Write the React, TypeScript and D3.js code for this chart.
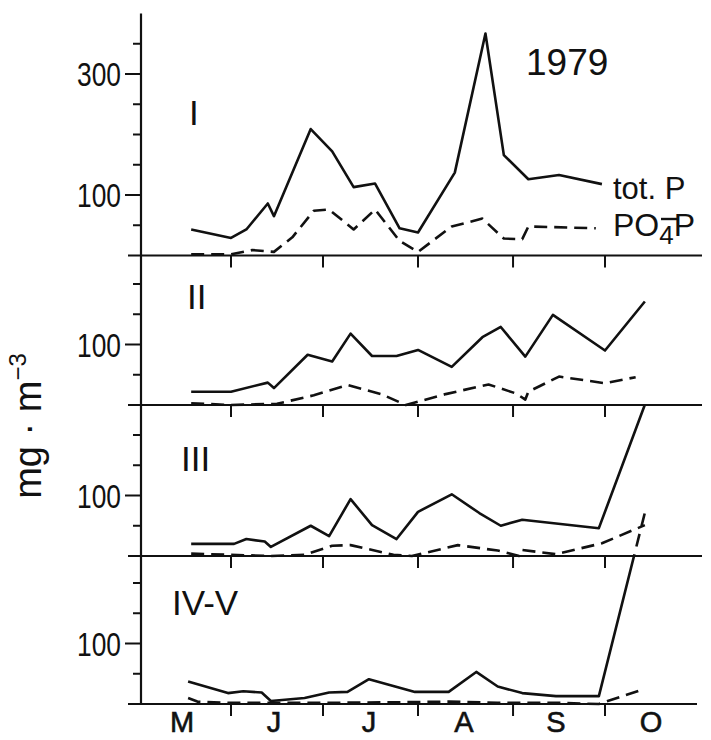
import * as d3 from "d3";

// sampling dates (1979) and values, mg m-3
const totP_I: [string, number][] = [
  ["05-19", 43], ["06-01", 29], ["06-06", 43], ["06-13", 86], ["06-15", 65],
  ["06-27", 209], ["07-04", 172], ["07-11", 113], ["07-18", 119], ["07-26", 45],
  ["08-01", 38], ["08-13", 137], ["08-23", 367], ["08-29", 166], ["09-06", 126],
  ["09-16", 133], ["09-30", 118],
];
const po4_I: [string, number][] = [
  ["05-19", 2], ["06-01", 2], ["06-08", 9], ["06-15", 6], ["06-21", 30],
  ["06-28", 74], ["07-03", 76], ["07-11", 43], ["07-18", 76], ["07-26", 24],
  ["08-01", 6], ["08-12", 48], ["08-22", 61], ["08-29", 28], ["09-04", 27],
  ["09-06", 48], ["09-28", 45],
];
const totP_II: [string, number][] = [
  ["05-19", 22], ["06-01", 22], ["06-13", 37], ["06-15", 28], ["06-26", 83],
  ["07-04", 72], ["07-10", 118], ["07-17", 81], ["07-25", 81], ["08-01", 91],
  ["08-12", 63], ["08-22", 112], ["08-28", 129], ["09-05", 80], ["09-14", 149],
  ["10-01", 90], ["10-14", 171],
];
const po4_II: [string, number][] = [
  ["05-19", 3], ["06-01", 0], ["06-16", 2], ["06-28", 16], ["07-09", 33],
  ["07-20", 18], ["07-28", 0], ["08-10", 18], ["08-24", 34], ["09-02", 19],
  ["09-05", 9], ["09-06", 22], ["09-16", 47], ["10-01", 36], ["10-11", 46],
];
const totP_III: [string, number][] = [
  ["05-19", 20], ["06-02", 20], ["06-06", 28], ["06-12", 24], ["06-14", 15],
  ["06-27", 50], ["07-03", 33], ["07-10", 94], ["07-17", 51], ["07-25", 28],
  ["08-01", 73], ["08-12", 102], ["08-21", 71], ["08-28", 50], ["09-04", 60],
  ["09-29", 46], ["10-14", 250],
];
const po4_III: [string, number][] = [
  ["05-19", 4], ["06-01", 2], ["06-14", 0], ["06-25", 2], ["07-04", 17],
  ["07-10", 18], ["07-24", 2], ["07-30", 0], ["08-14", 18], ["08-27", 9],
  ["09-03", 0], ["09-04", 10], ["09-15", 3], ["09-30", 21], ["10-14", 51],
];
const totP_IV: [string, number][] = [
  ["05-18", 37], ["05-31", 18], ["06-05", 21], ["06-11", 19], ["06-14", 5],
  ["06-25", 10], ["07-03", 19], ["07-09", 20], ["07-16", 41], ["07-26", 27],
  ["07-31", 20], ["08-11", 20], ["08-20", 53], ["08-27", 29], ["09-04", 18],
  ["09-15", 13], ["09-29", 13], ["10-14", 316],
];
const po4_IV: [string, number][] = [
  ["05-18", 10], ["05-21", 4], ["05-31", 2], ["06-14", 2], ["07-03", 2],
  ["07-26", 3], ["08-11", 4], ["08-27", 2], ["09-15", 2], ["09-29", 0],
  ["10-14", 25],
];

const panelNames = ["I", "II", "III", "IV-V"];
const ticksI = [50, 100, 150, 200, 250, 300, 350];
const ticksLower = [50, 100, 150, 200];
const labelledI = [100, 300];
const labelledLower = [100];

const monthNames = ["M", "J", "J", "A", "S", "O"];
const monthMids = ["05-16", "06-15", "07-16", "08-16", "09-15", "10-16"];
const monthStarts = ["06-01", "07-01", "08-01", "09-01", "10-01"];

const parse = d3.timeParse("%Y-%m-%d");
const day = (s: string) => parse("1979-" + s) as Date;

const W = 711, H = 740;
const INK = "#111";
const FONT = "'Liberation Sans', Arial, sans-serif";
const AXIS_X = 141;
const BASES = [255.5, 405, 556, 704];
const TOPS = [13.5, 255.5, 405, 556];
const PX_PER_UNIT = 0.605;

export default function App() {
  const x = d3.scaleTime().domain([day("05-01"), day("10-01")]).range([136, 605]);

  const panels = [
    { tot: totP_I, po4: po4_I, ticks: ticksI, labelled: labelledI, labelPos: [189, 125] },
    { tot: totP_II, po4: po4_II, ticks: ticksLower, labelled: labelledLower, labelPos: [187, 309] },
    { tot: totP_III, po4: po4_III, ticks: ticksLower, labelled: labelledLower, labelPos: [181, 471] },
    { tot: totP_IV, po4: po4_IV, ticks: ticksLower, labelled: labelledLower, labelPos: [172, 615] },
  ].map((p, i) => ({
    ...p,
    name: panelNames[i],
    y: d3.scaleLinear()
      .domain([0, (BASES[i] - TOPS[i]) / PX_PER_UNIT])
      .range([BASES[i], TOPS[i]]),
  }));

  const mkLine = (y: d3.ScaleLinear<number, number>) =>
    d3.line<[string, number]>().x(d => x(day(d[0]))).y(d => y(d[1]));

  return (
    <svg width={W} height={H} style={{ position: "absolute", left: 0, top: 0, background: "#fff" }}>
      <defs>
        <clipPath id="clipIV"><rect x={0} y={BASES[2]} width={W} height={H - BASES[2]} /></clipPath>
        <clipPath id="clipAboveIV"><rect x={0} y={0} width={W} height={BASES[2]} /></clipPath>
      </defs>

      {/* y axis */}
      <line x1={AXIS_X} x2={AXIS_X} y1={TOPS[0]} y2={BASES[3]} stroke={INK} strokeWidth={2.2} />

      {panels.map((p, i) => (
        <g key={p.name}>
          {/* baseline */}
          <line x1={128} x2={i === 3 ? 697 : 702} y1={BASES[i]} y2={BASES[i]} stroke={INK} strokeWidth={2} />
          {/* month ticks */}
          {monthStarts.map(m => (
            <line key={m} x1={x(day(m))} x2={x(day(m))} y1={BASES[i]} y2={BASES[i] + 12}
              stroke={INK} strokeWidth={2} />
          ))}
          {/* y ticks */}
          {p.ticks.map(t => {
            const big = p.labelled.includes(t);
            return (
              <g key={t}>
                <line x1={AXIS_X - (big ? 16 : 8)} x2={AXIS_X} y1={p.y(t)} y2={p.y(t)} stroke={INK} strokeWidth={2} />
                {big && (
                  <text x={121} y={p.y(t)} dy="0.36em" textAnchor="end" fontFamily={FONT}
                    fontSize={34} fill={INK} textLength={44} lengthAdjust="spacingAndGlyphs">{t}</text>
                )}
              </g>
            );
          })}
          {/* panel label */}
          <text x={p.labelPos[0]} y={p.labelPos[1]} fontFamily={FONT} fontSize={35} fill={INK}>{p.name}</text>

          {/* tot P */}
          {i < 3 ? (
            <path d={mkLine(p.y)(p.tot) ?? ""} fill="none" stroke={INK} strokeWidth={2.6} strokeLinejoin="round" />
          ) : (
            <>
              <path d={mkLine(p.y)(p.tot) ?? ""} fill="none" stroke={INK} strokeWidth={2.6}
                strokeLinejoin="round" clipPath="url(#clipIV)" />
              <path d={mkLine(p.y)(p.tot) ?? ""} fill="none" stroke={INK} strokeWidth={2.6}
                strokeDasharray="13,8" clipPath="url(#clipAboveIV)" />
            </>
          )}
          {/* PO4-P */}
          <path d={mkLine(p.y)(p.po4) ?? ""} fill="none" stroke={INK} strokeWidth={2.6}
            strokeDasharray="13,7" strokeLinejoin="round" />
        </g>
      ))}

      {/* month labels */}
      {monthNames.map((m, i) => (
        <text key={i} x={x(day(monthMids[i]))} y={732} textAnchor="middle" fontFamily={FONT}
          fontSize={29} fill={INK} stroke={INK} strokeWidth={0.6}>{m}</text>
      ))}

      {/* year */}
      <text x={526} y={75} fontFamily={FONT} fontSize={37} fill={INK}>1979</text>

      {/* legend */}
      <text x={613} y={199} fontFamily={FONT} fontSize={31} fill={INK}>tot. P</text>
      <text x={613} y={236} fontFamily={FONT} fontSize={32} fill={INK}>
        PO<tspan dy={8} fontSize={26}>4</tspan><tspan dy={-8}>P</tspan>
      </text>
      <line x1={661} x2={679} y1={219} y2={219} stroke={INK} strokeWidth={2.4} />

      {/* y label */}
      <text transform="translate(41,426) rotate(-90)" textAnchor="middle" fontFamily={FONT}
        fontSize={38} fill={INK}>
        mg · m<tspan dy={-15} fontSize={24}>−3</tspan>
      </text>
    </svg>
  );
}
